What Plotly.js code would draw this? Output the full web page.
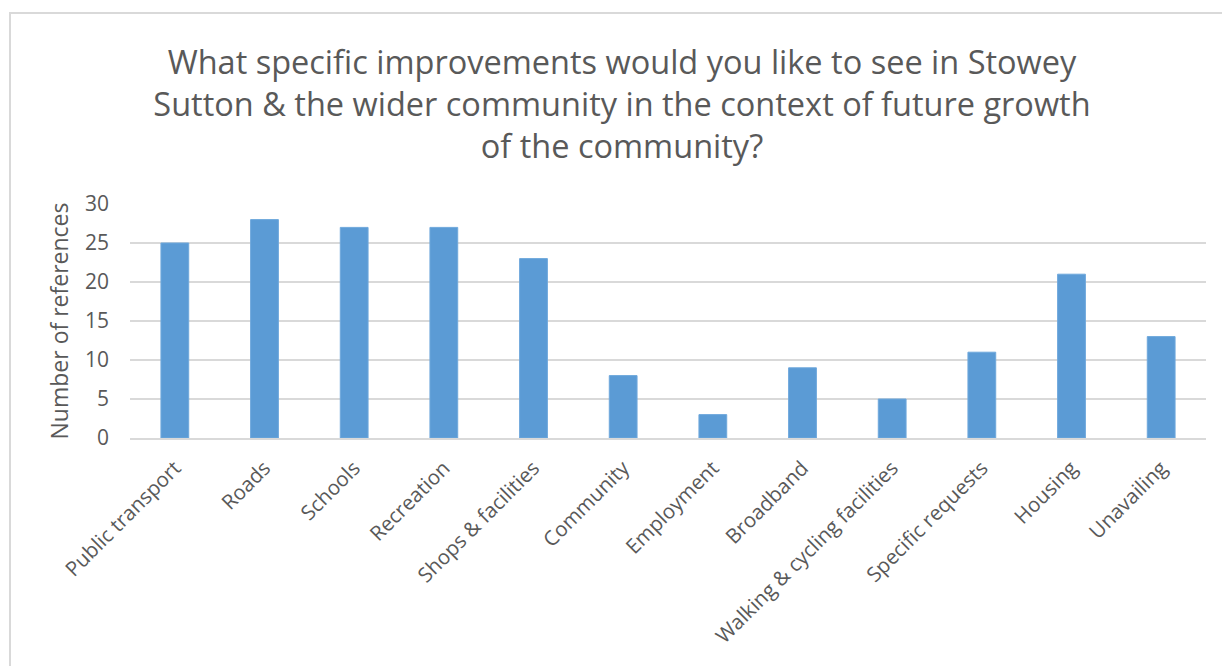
<!DOCTYPE html>
<html>
<head>
<meta charset="utf-8">
<script src="https://cdn.plot.ly/plotly-3.0.1.min.js"></script>
<style>
  html, body { margin: 0; padding: 0; background: #ffffff; }
  #wrap { position: relative; width: 1222px; height: 666px; overflow: hidden; }
  #frame { position: absolute; left: 9px; top: 12px; width: 1240px; height: 700px;
           border: 2px solid #d9d9d9; box-sizing: border-box; pointer-events: none; }
  #chart { position: absolute; left: 0; top: 0; width: 1222px; height: 666px; }
</style>
</head>
<body>
<div id="wrap">
  <div id="chart"></div>
  <div id="frame"></div>
</div>
<script>
const chartTitle = "What specific improvements would you like to see in Stowey<br>Sutton &amp; the wider community in the context of future growth<br>of the community?";
const categories = ["Public transport", "Roads", "Schools", "Recreation", "Shops &amp; facilities",
  "Community", "Employment", "Broadband", "Walking &amp; cycling facilities", "Specific requests",
  "Housing", "Unavailing"];
const references = [25, 28, 27, 27, 23, 8, 3, 9, 5, 11, 21, 13];
const yTickValues = [0, 5, 10, 15, 20, 25, 30];
const yAxisTitle = "Number of references";

const textColor = "#595959";
const fontFam = "'Open Sans', 'Noto Sans', sans-serif";

const data = [{
  type: "bar",
  x: categories,
  y: references,
  marker: { color: "#5B9BD5", line: { color: "#6FA8DC", width: 1 } },
  hoverinfo: "x+y"
}];

const layout = {
  width: 1222,
  height: 666,
  paper_bgcolor: "rgba(0,0,0,0)",
  plot_bgcolor: "rgba(0,0,0,0)",
  margin: { l: 130, r: 16, t: 204, b: 228, pad: 0 },
  bargap: 0.69,
  showlegend: false,
  font: { family: fontFam, color: textColor },
  title: {
    text: chartTitle,
    font: { family: fontFam, size: 32.5, color: textColor },
    x: 0.509, xanchor: "center",
    y: 0.889, yanchor: "middle", yref: "container"
  },
  xaxis: {
    type: "category",
    tickangle: -45,
    tickfont: { family: fontFam, size: 20.5, color: textColor },
    showgrid: false,
    showline: true,
    linecolor: "#d9d9d9",
    linewidth: 2,
    ticks: "",
    ticklabelstandoff: 8,
    fixedrange: true
  },
  yaxis: {
    range: [0, 30],
    tickvals: yTickValues,
    ticktext: yTickValues.map(String),
    tickfont: { family: fontFam, size: 21, color: textColor },
    showgrid: true,
    gridcolor: "#d9d9d9",
    gridwidth: 2,
    zeroline: false,
    showline: false,
    ticks: "",
    ticklabelstandoff: 20,
    title: { text: yAxisTitle, font: { family: fontFam, size: 23, color: textColor }, standoff: 9 },
    fixedrange: true
  }
};

Plotly.newPlot("chart", data, layout, { displayModeBar: false, staticPlot: true });
</script>
</body>
</html>
